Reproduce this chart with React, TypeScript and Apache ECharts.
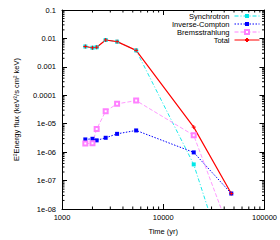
import React, { useEffect, useRef } from "react";
import * as echarts from "echarts";

const times = [1700, 2000, 2200, 2700, 3500, 5400, 20000, 47000];
const synchrotron = [0.0052, 0.0047, 0.0049, 0.0088, 0.0077, 0.0038, 3.7e-7, 3e-11];
const inverseCompton = [2.8e-6, 2.95e-6, 2.6e-6, 3.2e-6, 4.4e-6, 5.8e-6, 9.8e-7, 3.5e-8];
const bremsstrahlung = [2.0e-6, 2.05e-6, 6.5e-6, 2.75e-5, 5.0e-5, 6.5e-5, 3.9e-6, 1.15e-9];
const total = [0.0052, 0.0047, 0.0049, 0.0088, 0.0077, 0.0038, 7.6e-6, 3.5e-8];

const xTickLabels = ["1000", "10000", "100000"];
const yTickLabels = ["1e-08", "1e-07", "1e-06", "1e-05", "0.0001", "0.001", "0.01", "0.1"];

const X_MIN = 1000;
const X_MAX = 100000;
const Y_MIN = 1e-8;
const Y_MAX = 0.1;

const FONT = "Liberation Sans, Arial, sans-serif";
const FS = 7.5;

function minorTicks(lo: number, hi: number): number[] {
  const out: number[] = [];
  for (let d = lo; d < hi; d *= 10) {
    for (let k = 2; k <= 9; k++) out.push(d * k);
  }
  return out;
}

export default function App() {
  const ref = useRef<HTMLDivElement>(null);
  useEffect(() => {
    if (!ref.current) return;
    const chart = echarts.init(ref.current, undefined, { renderer: "svg" });
    const pairs = (ys: number[]) => times.map((t, i) => [t, ys[i]]);
    const xMinor = minorTicks(X_MIN, X_MAX).map((v) => [v, Y_MIN]);
    const yMinor = minorTicks(Y_MIN, Y_MAX).map((v) => [X_MIN, v]);
    const MINOR = 2.5;

    const axisCommon = {
      axisLine: { show: true, onZero: false, lineStyle: { color: "#000", width: 1 } },
      axisTick: { show: true, inside: true, length: 5, lineStyle: { color: "#000", width: 1 } },
      splitLine: { show: false },
      minorTick: { show: false },
    };

    const option: any = {
      animation: false,
      textStyle: { fontFamily: FONT },
      grid: { left: 62, right: 12, top: 10, bottom: 25, containLabel: false },
      legend: {
        orient: "vertical",
        right: 20,
        top: 12,
        align: "right",
        itemWidth: 25,
        itemHeight: 5,
        itemGap: 0,
        data: ["Synchrotron", "Inverse-Compton", "Bremsstrahlung", "Total"],
        lineStyle: { width: 1 },
        textStyle: { fontFamily: FONT, fontSize: FS, color: "#000", lineHeight: 8, padding: [0, 0, 0, 0] },
        padding: 0,
      },
      xAxis: [
        {
          ...axisCommon,
          type: "log",
          logBase: 10,
          min: X_MIN,
          max: X_MAX,
          splitNumber: 2,
          position: "bottom",
          name: "Time (yr)",
          nameLocation: "middle",
          nameGap: 18,
          nameTextStyle: { fontFamily: FONT, fontSize: FS, color: "#000" },
          axisLabel: {
            fontFamily: FONT,
            fontSize: FS,
            color: "#000",
            margin: 4,
            formatter: (v: number) => xTickLabels[Math.round(Math.log10(v)) - 3] ?? "",
          },
        },
        {
          ...axisCommon,
          type: "log",
          logBase: 10,
          min: X_MIN,
          max: X_MAX,
          splitNumber: 2,
          position: "top",
          axisLabel: { show: false },
        },
      ],
      yAxis: [
        {
          ...axisCommon,
          type: "log",
          logBase: 10,
          min: Y_MIN,
          max: Y_MAX,
          splitNumber: 7,
          position: "left",
          name: "E\u00b2Energy flux (keV\u00b2/s cm\u00b2 keV)",
          nameLocation: "middle",
          nameGap: 42,
          nameRotate: 90,
          nameTextStyle: { fontFamily: FONT, fontSize: FS, color: "#000" },
          axisLabel: {
            fontFamily: FONT,
            fontSize: FS,
            color: "#000",
            margin: 6,
            formatter: (v: number) => yTickLabels[Math.round(Math.log10(v)) + 8] ?? "",
          },
        },
        {
          ...axisCommon,
          type: "log",
          logBase: 10,
          min: Y_MIN,
          max: Y_MAX,
          splitNumber: 7,
          position: "right",
          axisLabel: { show: false },
        },
      ],
      series: [
        {
          name: "Synchrotron",
          type: "line",
          data: pairs(synchrotron),
          symbol: "rect",
          symbolSize: 4,
          clip: true,
          lineStyle: { color: "#00e8e8", width: 0.9, type: [4, 2, 1, 2] },
          itemStyle: { color: "#00e8e8" },
        },
        {
          name: "Inverse-Compton",
          type: "line",
          data: pairs(inverseCompton),
          symbol: "rect",
          symbolSize: 4,
          clip: true,
          lineStyle: { color: "#0000ff", width: 1, type: [1.5, 1.5] },
          itemStyle: { color: "#0000ff" },
        },
        {
          name: "Bremsstrahlung",
          type: "line",
          data: pairs(bremsstrahlung),
          symbol: "emptyRect",
          symbolSize: 4,
          clip: true,
          lineStyle: { color: "#ff80ff", width: 0.8, type: [4, 2] },
          itemStyle: { color: "#ff80ff", borderColor: "#ff80ff", borderWidth: 0.9 },
        },
        {
          name: "Total",
          type: "line",
          data: pairs(total),
          symbol: "path://M0,5 L10,5 M5,0 L5,10",
          symbolSize: 4,
          clip: true,
          lineStyle: { color: "#ff0000", width: 1.2, type: "solid" },
          itemStyle: { color: "#ff0000", borderColor: "#ff0000", borderWidth: 1 },
        },
        {
          name: "xminor",
          type: "custom",
          silent: true,
          data: xMinor,
          renderItem: (params: any, api: any) => {
            const p = api.coord([api.value(0), api.value(1)]);
            const cs = params.coordSys;
            const st = { stroke: "#000", lineWidth: 1 };
            return {
              type: "group",
              children: [
                { type: "line", shape: { x1: p[0], y1: cs.y + cs.height, x2: p[0], y2: cs.y + cs.height - MINOR }, style: st },
                { type: "line", shape: { x1: p[0], y1: cs.y, x2: p[0], y2: cs.y + MINOR }, style: st },
              ],
            };
          },
        },
        {
          name: "yminor",
          type: "custom",
          silent: true,
          data: yMinor,
          renderItem: (params: any, api: any) => {
            const p = api.coord([api.value(0), api.value(1)]);
            const cs = params.coordSys;
            const st = { stroke: "#000", lineWidth: 1 };
            return {
              type: "group",
              children: [
                { type: "line", shape: { x1: cs.x, y1: p[1], x2: cs.x + MINOR, y2: p[1] }, style: st },
                { type: "line", shape: { x1: cs.x + cs.width, y1: p[1], x2: cs.x + cs.width - MINOR, y2: p[1] }, style: st },
              ],
            };
          },
        },
      ],
    };
    chart.setOption(option);
    return () => chart.dispose();
  }, []);
  return <div ref={ref} style={{ width: 280, height: 240, position: "absolute", left: 0, top: 0 }} />;
}
